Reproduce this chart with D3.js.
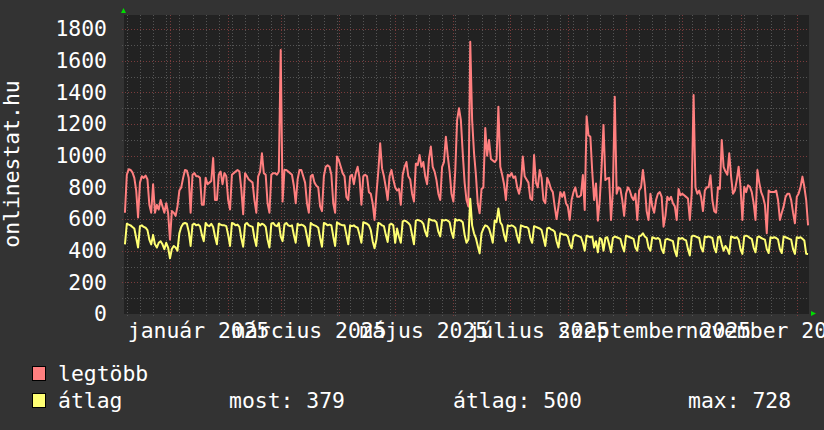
<!DOCTYPE html>
<html>
<head>
<meta charset="utf-8">
<script src="https://cdn.jsdelivr.net/npm/d3@7"></script>
<style>
  html, body { margin: 0; padding: 0; background: #333333; }
  svg { display: block; }
  text { font-family: "DejaVu Sans Mono", monospace; }
</style>
</head>
<body>
<svg id="chart" width="824" height="430"></svg>
<script>
// ---- data (daily values, first day 2024-12-08) ----
const startDay = [2024, 11, 8];
const seriesNames = ["legtöbb", "átlag"];
const seriesColors = ["#ff7f7f", "#ffff73"];

const legtobb = [
640,
880,915,910,895,860,780,610,
830,870,860,875,850,690,640,
820,640,690,660,720,680,640,
700,640,470,650,640,620,680,
780,800,860,910,905,860,640,
880,890,870,870,860,690,690,
860,820,830,840,985,720,720,
880,900,820,890,870,720,660,
880,890,900,910,900,790,630,
890,870,850,840,830,720,640,
870,900,1015,890,880,700,640,
880,890,890,880,900,1668,710,
910,910,900,890,880,810,700,
850,910,910,870,830,700,640,
870,880,830,810,800,680,650,
870,930,940,930,880,700,640,
995,970,930,890,870,740,720,
870,880,820,890,930,860,690,
870,880,870,770,760,700,594,
760,900,1078,920,870,800,720,
870,910,850,800,780,790,690,
880,930,960,870,850,760,710,
950,940,1005,930,960,870,820,
980,1058,930,900,846,760,720,
930,960,1120,1000,900,760,710,
900,1225,1300,1225,1015,830,720,
680,1720,1225,1020,880,700,636,
790,800,1175,1000,1100,980,970,
960,975,1310,930,880,820,720,
880,870,890,860,870,800,760,
820,995,870,850,830,730,720,
1005,830,800,910,860,720,700,
860,830,790,770,680,600,680,
770,740,770,700,680,594,720,
770,800,740,741,750,878,657,
1250,1130,1120,900,720,825,590,
720,931,1194,846,856,860,594,
780,1373,760,800,790,720,620,
760,800,780,740,720,760,594,
780,800,910,810,650,594,760,
680,640,720,760,770,740,552,
620,740,720,740,700,680,594,
790,750,760,750,740,730,594,
760,1383,800,760,780,740,650,
780,800,800,876,720,650,640,
800,790,1099,930,900,880,1015,
867,760,780,846,931,804,594,
804,770,814,804,770,700,594,
910,830,770,740,690,510,780,
770,770,770,780,720,594,640,
680,740,760,760,720,640,573,
741,762,804,868,804,720,560
];

const atlag = [
440,
570,565,560,550,540,480,420,
555,560,550,545,530,470,440,
500,440,420,450,460,440,410,
450,420,352,410,430,420,400,
510,550,570,575,570,520,430,
565,570,560,565,555,500,460,
575,560,555,570,550,490,440,
570,565,560,560,555,500,430,
575,570,560,565,550,480,425,
565,575,560,555,550,480,430,
575,560,570,565,550,470,420,
570,575,560,555,575,490,460,
565,575,560,555,560,500,450,
570,560,565,560,550,490,430,
575,565,560,555,545,480,425,
575,570,560,565,560,490,430,
580,570,565,560,560,500,440,
560,555,560,550,545,500,450,
580,575,570,560,530,460,415,
470,575,570,560,555,500,455,
565,570,560,450,540,490,450,
585,590,585,575,560,500,440,
590,595,590,585,570,520,490,
600,595,590,590,580,520,490,
595,590,595,590,580,520,480,
600,590,595,590,580,500,450,
470,728,560,510,480,430,383,
510,540,560,555,540,500,450,
590,580,667,580,560,500,460,
560,555,560,555,545,490,450,
560,555,550,550,540,480,450,
555,550,545,540,530,480,430,
540,545,535,530,520,460,420,
510,505,500,500,490,440,415,
490,500,495,490,485,450,400,
495,490,485,490,420,460,390,
480,470,400,480,485,440,390,
480,490,485,480,475,430,395,
495,490,485,480,475,420,400,
490,495,510,490,480,420,400,
485,480,475,480,470,410,385,
470,475,470,465,460,400,365,
480,475,480,470,465,410,370,
490,495,490,485,480,420,395,
490,485,490,485,480,420,390,
485,490,440,400,430,410,380,
490,485,480,485,470,410,380,
490,495,490,480,475,420,390,
485,490,480,475,470,410,385,
485,480,485,480,470,410,385,
490,485,480,475,470,410,380,
485,480,485,475,465,380,379
];

const yTicks = [0, 200, 400, 600, 800, 1000, 1200, 1400, 1600, 1800];
const xLabels = ["január 2025", "március 2025", "május 2025", "július 2025", "szeptember 2025", "november 2025"];
const xLabelMonths = [0, 2, 4, 6, 8, 10];
const statLabels = ["most:", "átlag:", "max:"];
const statValues = [379, 500, 728];
const yTitle = "onlinestat.hu";

// ---- layout ----
const svg = d3.select("#chart");
const W = 824, H = 430;
const L = 124, R = 809, T = 15, B = 314;
const FONT = 21.4;

const t0 = Date.UTC(startDay[0], startDay[1], startDay[2]);
const dayMs = 864e5;
const rows = legtobb.map((v, i) => ({ date: new Date(t0 + i * dayMs), a: v, b: atlag[i] }));

const x = d3.scaleUtc()
  .domain([new Date(Date.UTC(2024, 11, 7, 12)), new Date(Date.UTC(2025, 11, 7, 12))])
  .range([L, R]);
const y = d3.scaleLinear().domain([0, 1889]).range([B, T]);

svg.append("rect").attr("width", W).attr("height", H).attr("fill", "#333333");
svg.append("rect").attr("x", L).attr("y", T).attr("width", R - L).attr("height", B - T).attr("fill", "#222222");

// grid
const grid = svg.append("g").attr("shape-rendering", "crispEdges");
const minorCol = "#555555", majorCol = "#7a3c3c";
d3.range(100, 1889, 100).forEach(v => {
  const yy = Math.round(y(v)) + 0.5;
  grid.append("line").attr("x1", L - 2).attr("x2", R).attr("y1", yy).attr("y2", yy)
    .attr("stroke", v % 200 === 0 ? majorCol : minorCol).attr("stroke-dasharray", "1,2");
});
const dom = x.domain();
d3.utcMonday.range(dom[0], dom[1]).forEach(d => {
  if (d.getUTCDate() === 1) return;
  const xx = Math.round(x(d)) + 0.5;
  grid.append("line").attr("x1", xx).attr("x2", xx).attr("y1", T).attr("y2", B + 2)
    .attr("stroke", minorCol).attr("stroke-dasharray", "1,2");
});
d3.utcMonth.range(dom[0], dom[1]).forEach(d => {
  const xx = Math.round(x(d)) + 0.5;
  grid.append("line").attr("x1", xx).attr("x2", xx).attr("y1", T).attr("y2", B + 3)
    .attr("stroke", majorCol).attr("stroke-dasharray", "1,2");
});

// lines
const lineA = d3.line().x(d => x(d.date)).y(d => y(d.a));
const lineB = d3.line().x(d => x(d.date)).y(d => y(d.b));
svg.append("path").datum(rows).attr("d", lineA).attr("fill", "none")
  .attr("stroke", seriesColors[0]).attr("stroke-width", 2).attr("stroke-linejoin", "round");
svg.append("path").datum(rows).attr("d", lineB).attr("fill", "none")
  .attr("stroke", seriesColors[1]).attr("stroke-width", 2).attr("stroke-linejoin", "round");

// axis arrows
svg.append("path").attr("d", `M${L - 3},${T - 2} L${L + 2},${T - 2} L${L - 0.5},${T - 7} Z`).attr("fill", "#00dd00");
svg.append("path").attr("d", `M${R + 2},${B - 3} L${R + 2},${B + 2} L${R + 7},${B - 0.5} Z`).attr("fill", "#00dd00");

// y axis labels
const yAxis = svg.append("g").attr("transform", "translate(107,0)")
  .call(d3.axisLeft(y).tickValues(yTicks).tickSize(0).tickPadding(0).tickFormat(d3.format("d")));
yAxis.select(".domain").remove();
yAxis.selectAll("text").attr("fill", "#ffffff").style("font-size", FONT + "px")
  .style("font-family", "'DejaVu Sans Mono', monospace");

// x axis labels
const labelDates = xLabelMonths.map(m => new Date(Date.UTC(2025, m, 16)));
const xAxis = svg.append("g").attr("transform", `translate(0,${B})`)
  .call(d3.axisBottom(x).tickValues(labelDates).tickSize(0).tickFormat((d, i) => xLabels[i]));
xAxis.select(".domain").remove();
xAxis.selectAll("text").attr("y", 24).attr("dy", 0).attr("fill", "#ffffff")
  .style("font-size", FONT + "px").style("font-family", "'DejaVu Sans Mono', monospace");

// y title
svg.append("text").attr("transform", "translate(19,164) rotate(-90)")
  .attr("text-anchor", "middle").attr("fill", "#ffffff").style("font-size", FONT + "px")
  .text(yTitle);

// legend
const legY = [374, 401];
seriesNames.forEach((name, i) => {
  svg.append("rect").attr("x", 32.5).attr("y", legY[i] - 7.5).attr("width", 13).attr("height", 14)
    .attr("fill", seriesColors[i]).attr("stroke", "#000").attr("stroke-width", 1);
  svg.append("text").attr("x", 58).attr("y", legY[i] + 7).attr("fill", "#ffffff")
    .style("font-size", FONT + "px").text(name);
});
const statX = [229, 453, 688];
statLabels.forEach((s, i) => {
  svg.append("text").attr("x", statX[i]).attr("y", legY[1] + 7).attr("fill", "#ffffff")
    .style("font-size", FONT + "px").text(s + " " + statValues[i]);
});
</script>
</body>
</html>
